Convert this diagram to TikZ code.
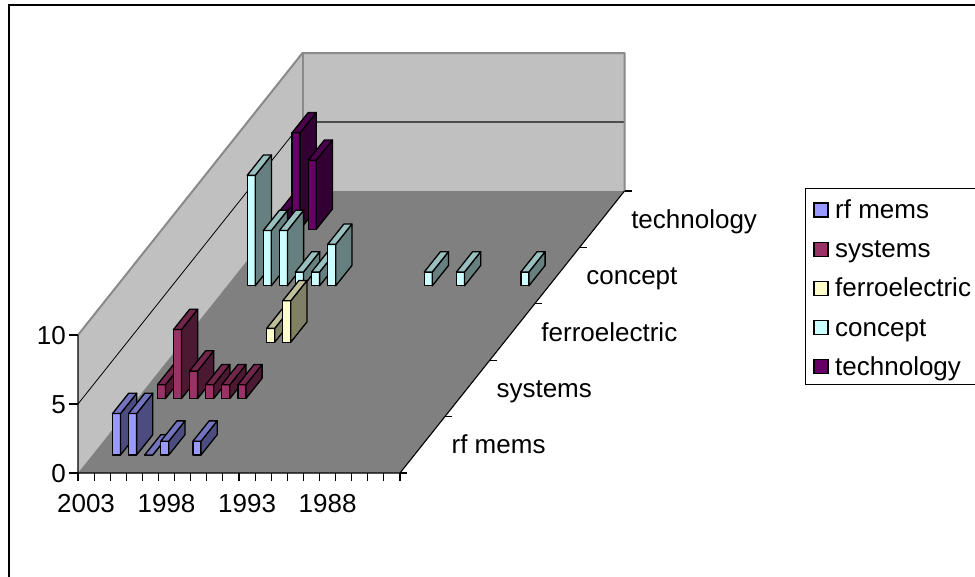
\documentclass[tikz,border=0pt]{standalone}
\usepackage{fontspec}
\setmainfont{Liberation Sans}

% series colours: front face, right side, top
\definecolor{rffront}{HTML}{9999FF}\definecolor{rfside}{HTML}{4C4C80}\definecolor{rftop}{HTML}{7373BF}
\definecolor{syfront}{HTML}{993366}\definecolor{syside}{HTML}{4C1933}\definecolor{sytop}{HTML}{73264C}
\definecolor{fefront}{HTML}{FFFFCC}\definecolor{feside}{HTML}{808066}\definecolor{fetop}{HTML}{BFBF99}
\definecolor{cofront}{HTML}{CCFFFF}\definecolor{coside}{HTML}{668080}\definecolor{cotop}{HTML}{99BFBF}
\definecolor{tefront}{HTML}{660066}\definecolor{teside}{HTML}{330033}\definecolor{tetop}{HTML}{4C004C}
\definecolor{wallgrey}{HTML}{C0C0C0}
\definecolor{floorgrey}{HTML}{808080}
\definecolor{edgegrey}{HTML}{8A8A8A}

\tikzset{
  barline/.style={draw=black, line width=1.3pt, line join=round},
  axisline/.style={draw=black, line width=1.1pt},
  walledge/.style={draw=edgegrey, line width=2pt, line join=round},
  lbl/.style={inner sep=0pt, font=\fontsize{26}{31}\selectfont},
  keybox/.style={draw=black, line width=1.3pt, minimum size=14pt, inner sep=0pt},
}

% one 3-D column: series, category, value, colour prefix
\newcommand{\chartbar}[4]{%
  \pgfmathsetmacro{\bx}{78+16.1*#2+4.025+(#1+0.32)*44.9}%
  \pgfmathsetmacro{\by}{473-(#1+0.32)*56.4}%
  \pgfmathsetmacro{\bh}{13.8*#3}%
  \pgfmathsetmacro{\bt}{\by-\bh}%
  \draw[barline, fill=#4front] (\bx,\by) -- ++(8.05,0) -- ++(0,-\bh) -- ++(-8.05,0) -- cycle;
  \draw[barline, fill=#4side] (\bx+8.05,\by) -- ++(16.16,-20.3) -- ++(0,-\bh) -- ++(-16.16,20.3) -- cycle;
  \draw[barline, fill=#4top] (\bx,\bt) -- ++(8.05,0) -- ++(16.16,-20.3) -- ++(-8.05,0) -- cycle;
}

\begin{document}
\begin{tikzpicture}[x=1pt, y=-1pt]
\useasboundingbox (0,0) rectangle (975,576);
\clip (0,0) rectangle (975,576);
\fill[white] (0,0) rectangle (975,576);

% chart frame
\draw[black, line width=1.3pt] (9,5) rectangle (1000,600);

% walls and floor
\coordinate (fl) at (78,473);
\coordinate (fr) at (400,473);
\coordinate (bl) at (302.5,191);
\coordinate (br) at (624.5,191);
\coordinate (ftl) at (78,335);
\coordinate (btl) at (302.5,53);
\coordinate (btr) at (624.5,53);
\fill[wallgrey] (fl) -- (bl) -- (btl) -- (ftl) -- cycle;
\fill[wallgrey] (bl) rectangle (btr);
\fill[floorgrey] (fl) -- (fr) -- (br) -- (bl) -- cycle;

% gridline at 5
\coordinate (g5f) at (78,404);
\coordinate (g5b) at (302.5,122);
\coordinate (g5r) at (624.5,122);
\draw[black, line width=0.8pt] (g5f) -- (g5b);
\draw[black!70, line width=1.3pt] (g5b) -- (g5r);

% wall edges
\draw[walledge] (ftl) -- (btl) -- (btr) -- (br);
\draw[walledge] (btl) -- (bl);

% axes
\draw[axisline] (ftl) -- (fl) -- (fr) -- (br);

% value axis ticks and labels
\foreach \v/\yy in {0/473, 5/404, 10/335}{
  \coordinate (vt\v) at (69,\yy);
  \draw[axisline] (vt\v) -- (78,\yy);
  \node[lbl, anchor=base east] (vl\v) at (66,\yy+9.4) {\v};
}

% category ticks
\foreach \i in {0,...,20}{
  \draw[axisline] (78+16.1*\i,473) -- (78+16.1*\i,481);
}
\foreach \i/\t in {0/2003, 5/1998, 10/1993, 15/1988}{
  \node[lbl, anchor=base] (cl\i) at (78+16.1*\i+8.05,512) {\t};
}

% series axis ticks and labels
\foreach \j in {0,...,5}{
  \draw[axisline] (400+44.9*\j,473-56.4*\j) -- ++(7,0);
}
\foreach \j/\t in {0/rf mems, 1/systems, 2/ferroelectric, 3/concept, 4/technology}{
  \node[lbl, anchor=base west] (sl\j) at (400+44.9*\j+22.45+29,473-56.4*\j-28.2+9) {\t};
}

% columns, back series first, left to right
\foreach \s/\k/\v/\c in {
  4/0/1/te, 4/1/7/te, 4/2/5/te,
  3/1/8/co, 3/2/4/co, 3/3/4/co, 3/4/1/co, 3/5/1/co, 3/6/3/co, 3/12/1/co, 3/14/1/co, 3/18/1/co,
  2/5/1/fe, 2/6/3/fe,
  1/1/1/sy, 1/2/5/sy, 1/3/2/sy, 1/4/1/sy, 1/5/1/sy, 1/6/1/sy,
  0/1/3/rf, 0/2/3/rf, 0/3/0/rf, 0/4/1/rf, 0/6/1/rf}{
  \chartbar{\s}{\k}{\v}{\c}
}

% legend
\draw[black, line width=1pt] (805,188) rectangle (1000,384);
\foreach \i/\c/\t in {0/rf/rf mems, 1/sy/systems, 2/fe/ferroelectric, 3/co/concept, 4/te/technology}{
  \node[keybox, fill=\c front] (key\i) at (821,210+39.2*\i) {};
  \node[lbl, anchor=base west] (kt\i) at (835,218.5+39.2*\i) {\t};
}
\end{tikzpicture}
\end{document}
